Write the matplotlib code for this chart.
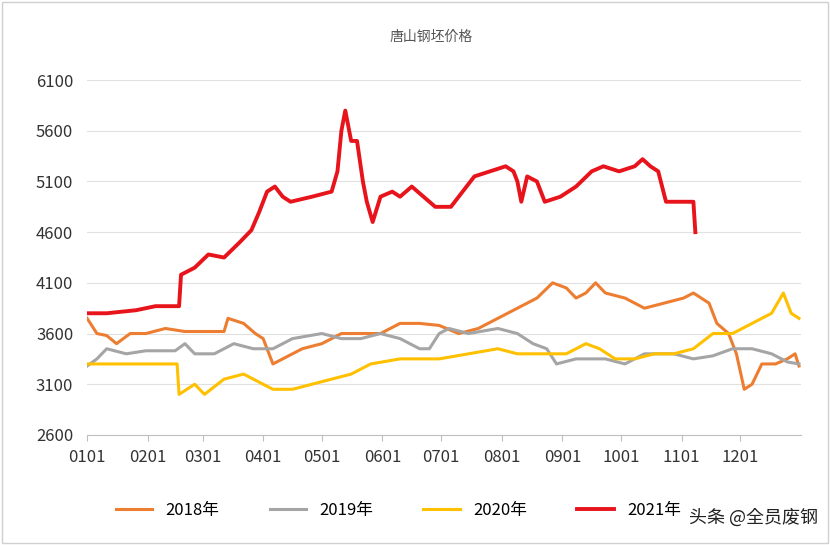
import matplotlib.pyplot as plt
from matplotlib import font_manager
import numpy as np

names = {f.name for f in font_manager.fontManager.ttflist}
cjk = [n for n in ['Noto Sans CJK SC', 'Noto Sans CJK JP', 'Noto Sans SC', 'Noto Sans CJK'] if n in names]
if not cjk:
    cjk = [n for n in names if 'CJK' in n][:1]
plt.rcParams['font.family'] = 'sans-serif'
plt.rcParams['font.sans-serif'] = cjk + ['DejaVu Sans']

# (day of year, price)
d2018 = [0, 5, 10, 15, 22, 30, 40, 50, 60, 70, 72, 80, 86, 90, 95, 100, 110, 120, 130, 140, 150, 160, 170, 180, 190, 200, 210, 220, 230, 238, 245, 250, 255, 260, 265, 275, 280, 285, 295, 305, 310, 318, 322, 328, 332, 336, 340, 345, 352, 358, 362, 364]
v2018 = [3750, 3600, 3580, 3500, 3600, 3600, 3650, 3620, 3620, 3620, 3750, 3700, 3600, 3550, 3300, 3350, 3450, 3500, 3600, 3600, 3600, 3700, 3700, 3680, 3600, 3650, 3750, 3850, 3950, 4100, 4050, 3950, 4000, 4100, 4000, 3950, 3900, 3850, 3900, 3950, 4000, 3900, 3700, 3600, 3400, 3050, 3100, 3300, 3300, 3350, 3400, 3280]
d2019 = [0, 5, 10, 20, 30, 45, 50, 55, 65, 75, 85, 95, 105, 120, 130, 140, 150, 160, 170, 175, 180, 185, 195, 210, 220, 228, 235, 240, 250, 265, 275, 285, 300, 310, 320, 330, 340, 350, 358, 364]
v2019 = [3280, 3350, 3450, 3400, 3430, 3430, 3500, 3400, 3400, 3500, 3450, 3450, 3550, 3600, 3550, 3550, 3600, 3550, 3450, 3450, 3600, 3650, 3600, 3650, 3600, 3500, 3450, 3300, 3350, 3350, 3300, 3400, 3400, 3350, 3380, 3450, 3450, 3400, 3320, 3300]
d2020 = [0, 10, 30, 46, 47, 55, 60, 70, 80, 90, 95, 105, 115, 125, 135, 145, 160, 180, 195, 210, 220, 230, 245, 255, 262, 270, 280, 290, 300, 310, 320, 330, 340, 350, 356, 360, 364]
v2020 = [3300, 3300, 3300, 3300, 3000, 3100, 3000, 3150, 3200, 3100, 3050, 3050, 3100, 3150, 3200, 3300, 3350, 3350, 3400, 3450, 3400, 3400, 3400, 3500, 3450, 3350, 3350, 3400, 3400, 3450, 3600, 3600, 3700, 3800, 4000, 3800, 3750]
d2021 = [0, 10, 25, 35, 47, 48, 55, 62, 70, 78, 84, 88, 92, 96, 100, 104, 115, 125, 128, 130, 132, 135, 138, 141, 143, 146, 150, 156, 160, 166, 172, 178, 186, 192, 198, 206, 214, 218, 220, 222, 225, 230, 234, 242, 250, 258, 264, 272, 280, 284, 288, 292, 296, 310, 311]
v2021 = [3800, 3800, 3830, 3870, 3870, 4180, 4250, 4380, 4350, 4500, 4620, 4800, 5000, 5050, 4950, 4900, 4950, 5000, 5200, 5600, 5800, 5500, 5500, 5100, 4900, 4700, 4950, 5000, 4950, 5050, 4950, 4850, 4850, 5000, 5150, 5200, 5250, 5200, 5100, 4900, 5150, 5100, 4900, 4950, 5050, 5200, 5250, 5200, 5250, 5320, 5250, 5200, 4900, 4900, 4600]

month_days = [0, 31, 59, 90, 120, 151, 181, 212, 243, 273, 304, 334]
month_labels = ['0101', '0201', '0301', '0401', '0501', '0601', '0701', '0801', '0901', '1001', '1101', '1201']
yticks = [2600, 3100, 3600, 4100, 4600, 5100, 5600, 6100]

fig = plt.figure(figsize=(8.3, 5.45), dpi=100)
ax = fig.add_axes([0.105, 0.202, 0.86, 0.651])
ax.plot(d2018, v2018, color='#ED7D31', lw=2.2, label='2018年')
ax.plot(d2019, v2019, color='#A5A5A5', lw=2.2, label='2019年')
ax.plot(d2020, v2020, color='#FFC000', lw=2.2, label='2020年')
ax.plot(d2021, v2021, color='#E8141B', lw=2.8, label='2021年')

ax.set_xlim(0, 365)
ax.set_ylim(2600, 6100)
ax.set_xticks(month_days)
ax.set_xticklabels(month_labels)
ax.set_yticks(yticks)
ax.grid(axis='y', color='#e0e0e0', lw=0.8)
ax.set_axisbelow(True)
for s in ['top', 'right', 'left']:
    ax.spines[s].set_visible(False)
ax.spines['bottom'].set_color('#bfbfbf')
ax.tick_params(axis='y', length=0, labelsize=12, colors='#333333', pad=10)
ax.tick_params(axis='x', length=4, labelsize=12, colors='#333333', color='#bfbfbf', pad=6)

fig.text(0.52, 0.925, '唐山钢坯价格', ha='center', fontsize=10, color='#555555')
fig.legend(loc='lower center', ncol=4, frameon=False, fontsize=12,
           bbox_to_anchor=(0.48, 0.02), handlelength=2.2, columnspacing=3)
fig.text(0.985, 0.04, '头条 @全员废钢', ha='right', fontsize=13, color='#222222')
fig.patches.append(plt.Rectangle((0.003, 0.003), 0.994, 0.994, transform=fig.transFigure,
                                 fill=False, edgecolor='#d0d0d0', lw=1))
fig.savefig('out.png')
